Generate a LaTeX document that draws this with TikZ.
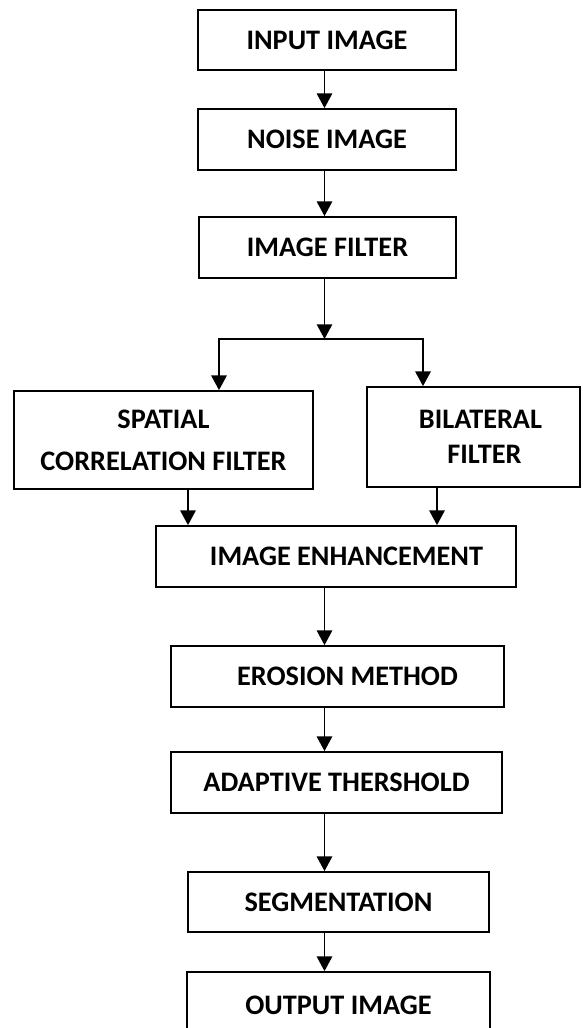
\documentclass[tikz,border=0pt]{standalone}
\usepackage{fontspec}
\setmainfont{Carlito}
\usetikzlibrary{arrows.meta,positioning}

\tikzset{
  block/.style={draw, line width=1.3pt, inner sep=0pt, align=center,
    font=\bfseries\fontsize{21.2}{26}\selectfont},
  arr/.style={line width=1.3pt, -{Triangle[length=11pt,width=11.5pt]}}
}

\begin{document}
\begin{tikzpicture}[x=0.75pt,y=-0.75pt]
\useasboundingbox (0,0) rectangle (582,1028);

% top column
\node[block, minimum width=193.5pt, minimum height=45pt] (input) at (327,40) {INPUT IMAGE};
\node[block, minimum width=193.5pt, minimum height=45.75pt] (noise) at (327,139.5) {NOISE IMAGE};
\node[block, minimum width=192.75pt, minimum height=45.75pt] (filter) at (327.5,247.5) {IMAGE FILTER};

% the two filters
\node[block, minimum width=224.25pt, minimum height=73.5pt] (spatial) at (163.5,440) {SPATIAL\\[5.5pt]CORRELATION FILTER};
\node[block, minimum width=159.75pt, minimum height=75pt] (bilateral) at (473.5,437) {\hspace*{10.5pt}BILATERAL\\\hspace*{16.5pt}FILTER};

% lower column
\node[block, minimum width=270pt, minimum height=45.75pt] (enhance) at (336,556.5) {\hspace*{15.75pt}IMAGE ENHANCEMENT};
\node[block, minimum width=249.75pt, minimum height=45.75pt] (erosion) at (337.5,676.5) {\hspace*{15pt}EROSION METHOD};
\node[block, minimum width=248.25pt, minimum height=45.75pt] (adaptive) at (336.5,782.5) {ADAPTIVE THERSHOLD};
\node[block, minimum width=225.75pt, minimum height=45pt] (segment) at (338.5,902) {SEGMENTATION};
\node[block, minimum width=227.25pt, minimum height=49.5pt] (output) at (338.5,1005) {OUTPUT IMAGE};

% where the connectors run
\coordinate (spine) at (324.5,0);
\coordinate (fork) at (324.5,339);
\coordinate (lbranch) at (219,0);
\coordinate (rbranch) at (423,0);
\coordinate (ldrop) at (188,0);
\coordinate (rdrop) at (437,0);

\draw[arr] (input.south -| spine) -- (noise.north -| spine);
\draw[arr] (noise.south -| spine) -- (filter.north -| spine);
\draw[arr] (filter.south -| spine) -- (fork);
\draw[arr] (fork) -| (spatial.north -| lbranch);
\draw[arr] (fork) -| (bilateral.north -| rbranch);
\draw[arr] (spatial.south -| ldrop) -- (enhance.north -| ldrop);
\draw[arr] (bilateral.south -| rdrop) -- (enhance.north -| rdrop);
\foreach \a/\b in {enhance/erosion, erosion/adaptive, adaptive/segment, segment/output}
  \draw[arr] (\a.south -| spine) -- (\b.north -| spine);
\end{tikzpicture}
\end{document}
